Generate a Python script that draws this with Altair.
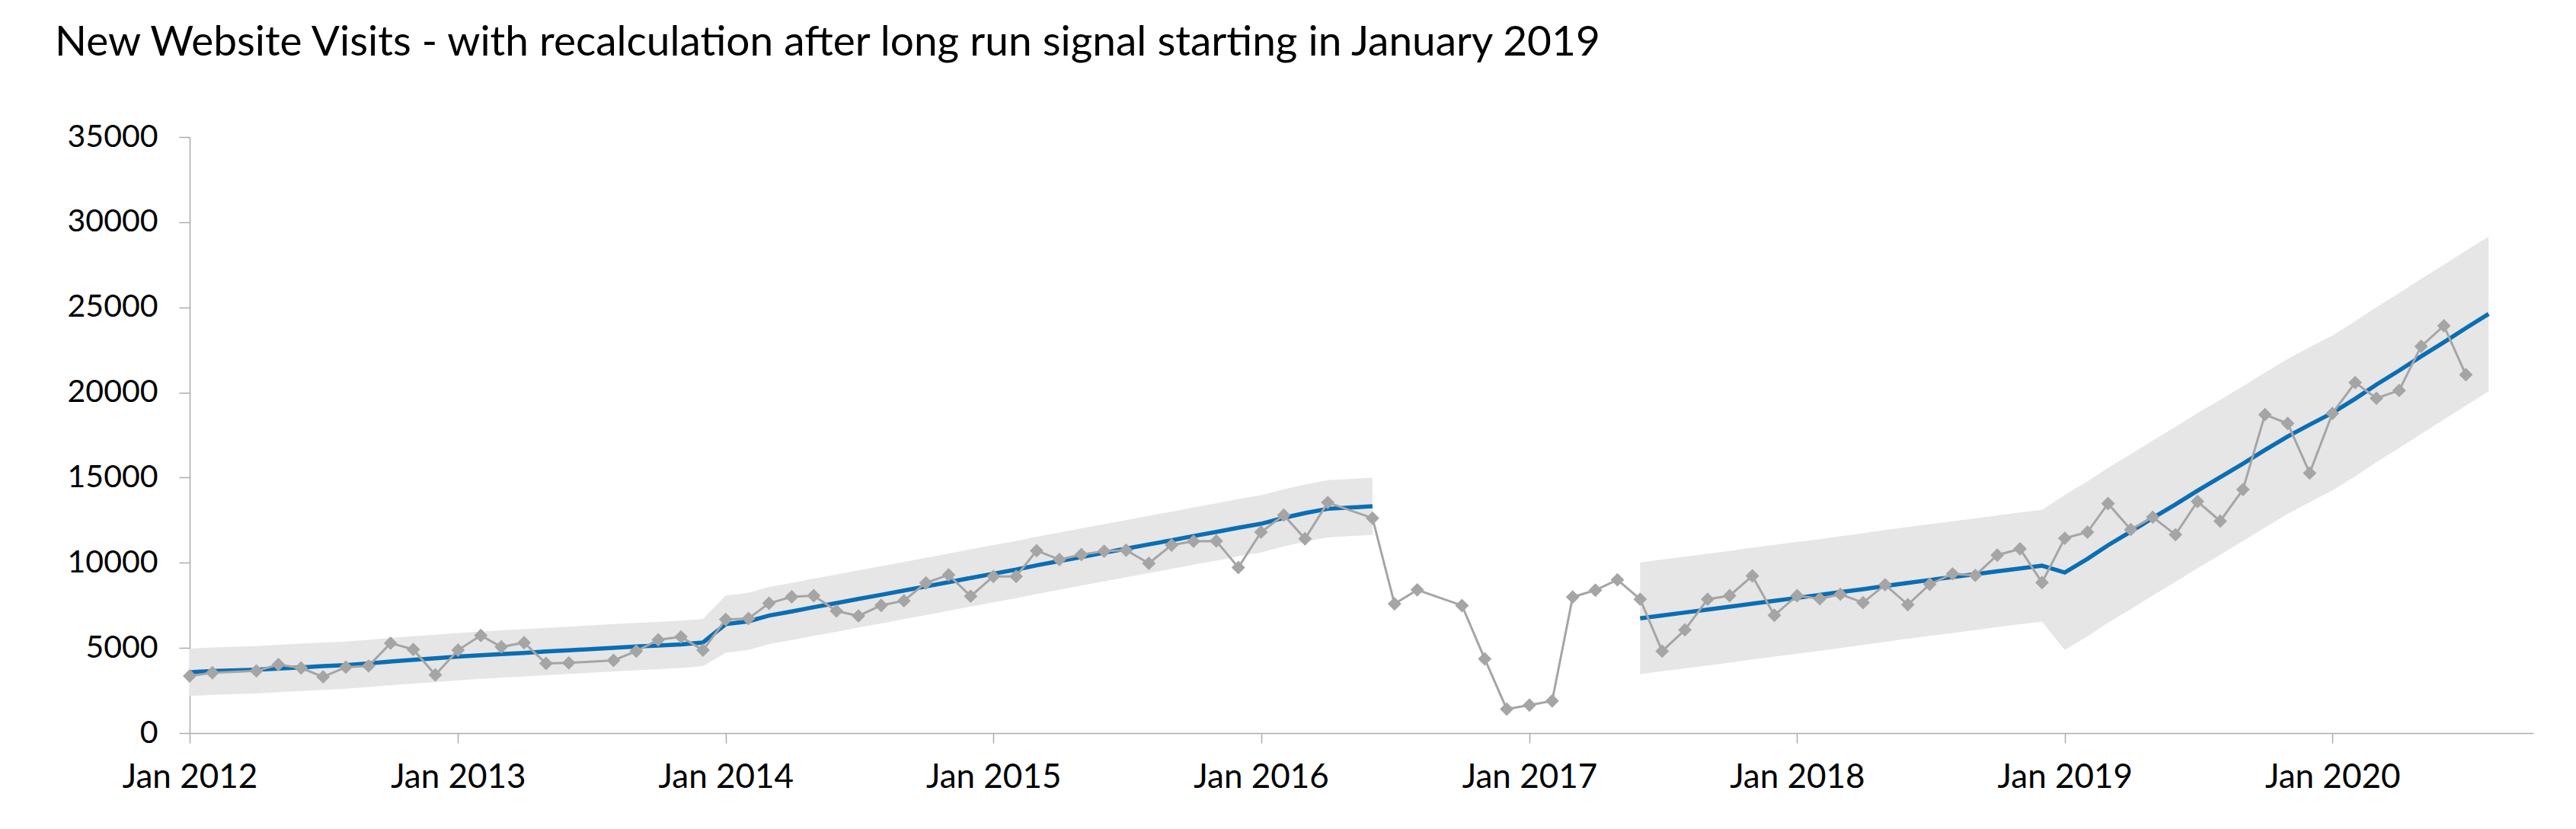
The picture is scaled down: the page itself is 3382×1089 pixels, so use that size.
import altair as alt
import pandas as pd

# ---- observed monthly visits (months with no point are absent) ----
visit_months = [
    "2012-01", "2012-02", "2012-04", "2012-05", "2012-06", "2012-07", "2012-08", "2012-09", "2012-10", "2012-11", "2012-12",
    "2013-01", "2013-02", "2013-03", "2013-04", "2013-05", "2013-06", "2013-08", "2013-09", "2013-10", "2013-11", "2013-12",
    "2014-01", "2014-02", "2014-03", "2014-04", "2014-05", "2014-06", "2014-07", "2014-08", "2014-09", "2014-10", "2014-11", "2014-12",
    "2015-01", "2015-02", "2015-03", "2015-04", "2015-05", "2015-06", "2015-07", "2015-08", "2015-09", "2015-10", "2015-11", "2015-12",
    "2016-01", "2016-02", "2016-03", "2016-04", "2016-06", "2016-07", "2016-08", "2016-10", "2016-11", "2016-12",
    "2017-01", "2017-02", "2017-03", "2017-04", "2017-05", "2017-06", "2017-07", "2017-08", "2017-09", "2017-10", "2017-11", "2017-12",
    "2018-01", "2018-02", "2018-03", "2018-04", "2018-05", "2018-06", "2018-07", "2018-08", "2018-09", "2018-10", "2018-11", "2018-12",
    "2019-01", "2019-02", "2019-03", "2019-04", "2019-05", "2019-06", "2019-07", "2019-08", "2019-09", "2019-10", "2019-11", "2019-12",
    "2020-01", "2020-02", "2020-03", "2020-04", "2020-05", "2020-06", "2020-07",
]
visits = [
    3350, 3540, 3650, 4020, 3820, 3300, 3870, 3940, 5280, 4910, 3420,
    4870, 5730, 5060, 5310, 4090, 4120, 4270, 4810, 5480, 5650, 4870,
    6670, 6730, 7620, 8000, 8070, 7170, 6880, 7500, 7770, 8820, 9290, 8040,
    9200, 9200, 10710, 10190, 10480, 10680, 10740, 9970, 11040, 11260, 11280, 9720,
    11800, 12800, 11410, 13540, 12620, 7590, 8410, 7490, 4360, 1410,
    1640, 1890, 7990, 8390, 9000, 7860, 4810, 6060, 7860, 8070, 9230, 6920,
    8070, 7890, 8150, 7660, 8710, 7540, 8740, 9350, 9260, 10450, 10820, 8840,
    11440, 11800, 13480, 11950, 12680, 11650, 13600, 12450, 14300, 18700, 18180, 15270,
    18770, 20580, 19660, 20120, 22710, 23920, 21040,
]

# ---- central (trend) line ----
trend_months = [
    "2012-01", "2012-02", "2012-04", "2012-05", "2012-06", "2012-07", "2012-08", "2012-09", "2012-10", "2012-11", "2012-12",
    "2013-01", "2013-02", "2013-03", "2013-04", "2013-05", "2013-06", "2013-08", "2013-09", "2013-10", "2013-11", "2013-12",
    "2014-01", "2014-02", "2014-03", "2014-04", "2014-05", "2014-06", "2014-07", "2014-08", "2014-09", "2014-10", "2014-11", "2014-12",
    "2015-01", "2015-02", "2015-03", "2015-04", "2015-05", "2015-06", "2015-07", "2015-08", "2015-09", "2015-10", "2015-11", "2015-12",
    "2016-01", "2016-02", "2016-03", "2016-04", "2016-06",
    "2017-06", "2017-07", "2017-08", "2017-09", "2017-10", "2017-11", "2017-12",
    "2018-01", "2018-02", "2018-03", "2018-04", "2018-05", "2018-06", "2018-07", "2018-08", "2018-09", "2018-10", "2018-11", "2018-12",
    "2019-01", "2019-02", "2019-03", "2019-04", "2019-05", "2019-06", "2019-07", "2019-08", "2019-09", "2019-10", "2019-11", "2019-12",
    "2020-01", "2020-02", "2020-03", "2020-04", "2020-05", "2020-06", "2020-07", "2020-08",
]
trend = [
    3570, 3640, 3720, 3790, 3860, 3930, 3990, 4090, 4200, 4300, 4390,
    4490, 4570, 4640, 4710, 4790, 4860, 5010, 5080, 5140, 5210, 5320,
    6400, 6560, 6900, 7140, 7390, 7630, 7880, 8120, 8370, 8610, 8860, 9110,
    9360, 9600, 9850, 10100, 10340, 10590, 10830, 11080, 11320, 11570, 11810, 12060,
    12290, 12640, 12920, 13170, 13320,
    6740, 6910, 7080, 7250, 7420, 7600, 7770,
    7940, 8110, 8280, 8450, 8640, 8820, 8990, 9160, 9330, 9500, 9670, 9830,
    9430, 10230, 11030, 11830, 12630, 13430, 14230, 15020, 15820, 16620, 17420, 18110,
    18800, 19630, 20460, 21290, 22120, 22950, 23780, 24610,
]

# limits: each calculation phase has its own half-width around the central line
phase_starts = ["2012-01", "2014-01", "2017-06", "2019-01"]
phase_half_width = [1390, 1680, 3280, 4550]
phase_run = ["A", "A", "B", "B"]

TITLE = "New Website Visits - with recalculation after long run signal starting in January 2019"
FONT = "Lato"
GREY = "#A5A5A5"
BLUE = "#0A6EB4"
BAND = "#E6E6E6"
AXIS = "#ABABAB"

visits_df = pd.DataFrame({"date": [m + "-01T00:00:00" for m in visit_months], "visits": visits})

phases = []
for m in trend_months:
    p = 0
    for i, s in enumerate(phase_starts):
        if m >= s:
            p = i
    phases.append(p)
trend_df = pd.DataFrame({
    "date": [m + "-01T00:00:00" for m in trend_months],
    "trend": trend,
    "run": [phase_run[p] for p in phases],
    "upper": [t + phase_half_width[p] for t, p in zip(trend, phases)],
    "lower": [t - phase_half_width[p] for t, p in zip(trend, phases)],
})

x_scale = alt.Scale(domain=[alt.DateTime(year=2012, month=1, date=1),
                            alt.DateTime(year=2020, month=10, date=1)])
x_enc = alt.X("date:T", scale=x_scale, title=None,
              axis=alt.Axis(format="%b %Y", tickCount="year", grid=False, labelFlush=False,
                            tickSize=13, labelPadding=23, labelFontSize=44))
y_scale = alt.Scale(domain=[0, 35000], nice=False)
y_enc = alt.Y("trend:Q", scale=y_scale, title=None,
              axis=alt.Axis(values=list(range(0, 35001, 5000)), format="d", grid=False,
                            labelFlush=False, tickSize=14, labelPadding=28, labelFontSize=41))

band = alt.Chart(trend_df).mark_area(color=BAND, opacity=1).encode(
    x=x_enc, y=alt.Y("lower:Q", scale=y_scale), y2="upper:Q", detail="run:N")

yaxis_holder = alt.Chart(trend_df).mark_line(opacity=0).encode(x="date:T", y=y_enc)

line = alt.Chart(trend_df).mark_line(color=BLUE, strokeWidth=5.5).encode(
    x="date:T", y=alt.Y("trend:Q", scale=y_scale, title=None), detail="run:N")

obs_line = alt.Chart(visits_df).mark_line(color=GREY, strokeWidth=3).encode(
    x="date:T", y=alt.Y("visits:Q", scale=y_scale))
obs_pts = alt.Chart(visits_df).mark_point(shape="diamond", filled=True, color=GREY,
                                          size=320, opacity=1).encode(
    x="date:T", y=alt.Y("visits:Q", scale=y_scale))

chart = alt.layer(band, yaxis_holder, line, obs_line, obs_pts).properties(
    width=3077, height=783,
    autosize=alt.AutoSizeParams(type="none"),
    padding={"left": 241, "top": 172, "right": 40, "bottom": 90},
    title=alt.Title(TITLE, anchor="start", frame="group", font=FONT, fontSize=55,
                    fontWeight=400, color="#000000", dx=-177, offset=74),
).configure_view(stroke=None).configure_axis(
    labelFont=FONT, labelColor="#000000", domainColor=AXIS, tickColor=AXIS,
    domainWidth=1.5, tickWidth=1.5,
)

chart.save("out.html", embed_options={"renderer": "svg", "actions": False})
